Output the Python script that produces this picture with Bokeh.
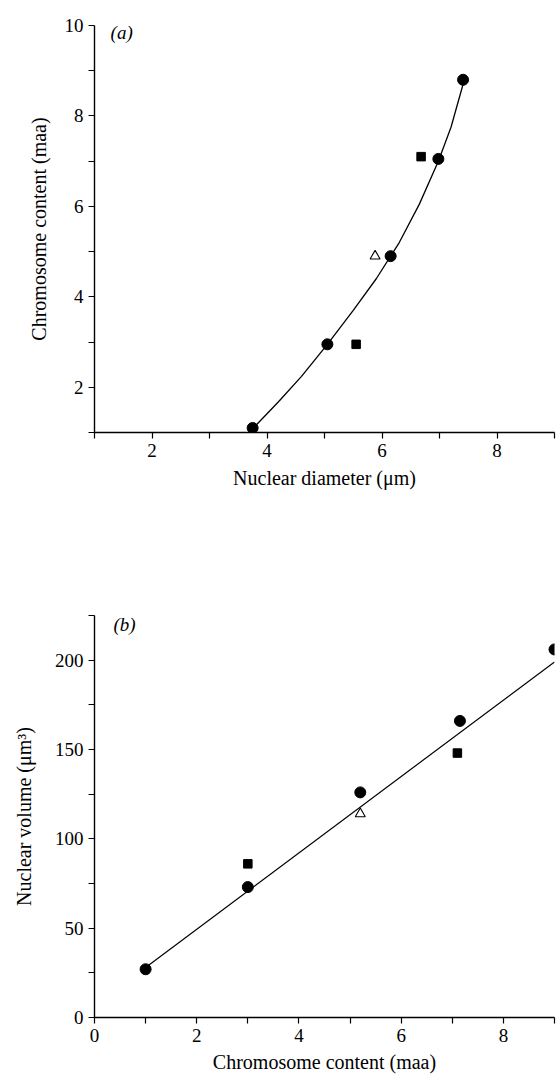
from bokeh.plotting import figure
from bokeh.models import Range1d, FixedTicker, Label
from bokeh.layouts import column
from bokeh.embed import file_html
from bokeh.resources import INLINE

# ---- Panel (a): nuclear diameter vs chromosome content ----
a_circle_x = [3.75, 5.05, 6.15, 6.98, 7.41]
a_circle_y = [1.1, 2.95, 4.9, 7.05, 8.8]
a_square_x = [5.55, 6.68]
a_square_y = [2.95, 7.1]
a_tri_x = [5.88]
a_tri_y = [4.9]
a_curve_x = [3.8, 4.2, 4.6, 5.05, 5.5, 5.9, 6.3, 6.65, 6.98, 7.2, 7.41]
a_curve_y = [1.15, 1.68, 2.24, 2.95, 3.7, 4.4, 5.2, 6.05, 7.0, 7.75, 8.7]
a_xticks = [2, 4, 6, 8]
a_xminor = [1, 3, 5, 7, 9]
a_yticks = [2, 4, 6, 8, 10]
a_yminor = [1, 3, 5, 7, 9]

# ---- Panel (b): chromosome content vs nuclear volume ----
b_circle_x = [1.0, 3.0, 5.2, 7.15, 9.0]
b_circle_y = [27, 73, 126, 166, 206]
b_square_x = [3.0, 7.1]
b_square_y = [86, 148]
b_tri_x = [5.2]
b_tri_y = [114]
b_line_x = [1.0, 9.0]
b_line_y = [28, 199]
b_xticks = [0, 2, 4, 6, 8]
b_xminor = [1, 3, 5, 7, 9]
b_yticks = [0, 50, 100, 150, 200]
b_yminor = [25, 75, 125, 175, 225]

FONT = "Liberation Serif"


def style(p, xt, xm, yt, ym, xlabel, ylabel, xstand, ystand):
    p.grid.visible = False
    p.outline_line_color = None
    for ax, t, m in ((p.xaxis[0], xt, xm), (p.yaxis[0], yt, ym)):
        ax.ticker = FixedTicker(ticks=t, minor_ticks=m)
        ax.axis_line_color = "black"
        ax.axis_line_width = 1.4
        ax.major_tick_line_color = "black"
        ax.minor_tick_line_color = "black"
        ax.major_tick_line_width = 1.2
        ax.minor_tick_line_width = 1.2
        ax.major_tick_in = 0
        ax.major_tick_out = 6
        ax.minor_tick_in = 0
        ax.minor_tick_out = 6
        ax.major_label_standoff = 5
        ax.major_label_text_font = FONT
        ax.major_label_text_font_size = "19px"
        ax.major_label_text_color = "black"
        ax.axis_label_text_font = FONT
        ax.axis_label_text_font_size = "20px"
        ax.axis_label_text_font_style = "normal"
        ax.axis_label_text_color = "black"
    p.xaxis[0].axis_label = xlabel
    p.yaxis[0].axis_label = ylabel
    p.xaxis[0].axis_label_standoff = xstand
    p.yaxis[0].axis_label_standoff = ystand


def marks(p, cx, cy, sx, sy, tx, ty):
    p.scatter(cx, cy, marker="circle", size=11, fill_color="black", line_color="black")
    p.scatter(sx, sy, marker="square", size=8.5, fill_color="black", line_color="black")
    p.scatter(tx, ty, marker="triangle", size=10, fill_color="white", line_color="black", line_width=1.1)


p1 = figure(width=556, height=496, x_range=Range1d(1, 9), y_range=Range1d(1, 10),
            output_backend="svg", toolbar_location=None,
            min_border_left=94, min_border_right=2, min_border_top=25, min_border_bottom=64)
style(p1, a_xticks, a_xminor, a_yticks, a_yminor,
      "Nuclear diameter (\u03bcm)", "Chromosome content (maa)", 7, 12)
p1.line(a_curve_x, a_curve_y, line_color="black", line_width=1.3)
marks(p1, a_circle_x, a_circle_y, a_square_x, a_square_y, a_tri_x, a_tri_y)
p1.add_layout(Label(x=1.28, y=9.85, text="(a)", text_font=FONT, text_font_size="19px",
                    text_font_style="italic", text_baseline="middle", text_color="black"))

p2 = figure(width=556, height=589, x_range=Range1d(0, 9), y_range=Range1d(0, 225),
            output_backend="svg", toolbar_location=None,
            min_border_left=94, min_border_right=2, min_border_top=119, min_border_bottom=68)
style(p2, b_xticks, b_xminor, b_yticks, b_yminor,
      "Chromosome content (maa)", "Nuclear volume (\u03bcm\u00b3)", 6, 17)
p2.line(b_line_x, b_line_y, line_color="black", line_width=1.2)
marks(p2, b_circle_x, b_circle_y, b_square_x, b_square_y, b_tri_x, b_tri_y)
p2.add_layout(Label(x=0.37, y=220, text="(b)", text_font=FONT, text_font_size="19px",
                    text_font_style="italic", text_baseline="middle", text_color="black"))

layout = column(p1, p2, spacing=0)
open("out.html", "w").write(file_html(layout, INLINE))
